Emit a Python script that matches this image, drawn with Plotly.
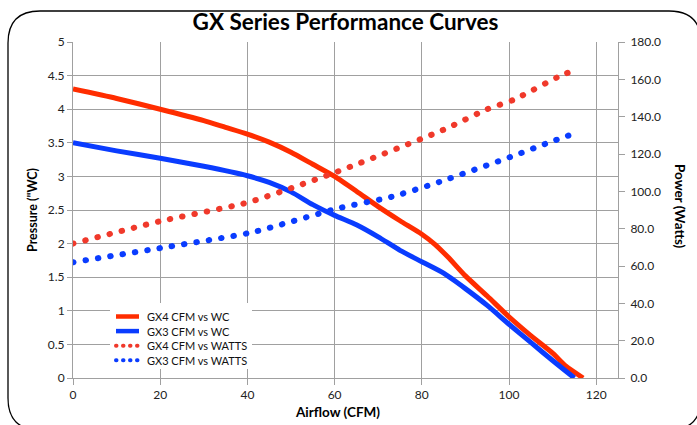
import plotly.graph_objects as go

# ---------------- data ----------------
gx4_wc_cfm = [0, 10, 20, 30, 35, 40, 45, 50, 55, 60, 65, 70, 75, 80, 83, 86, 90, 95, 100, 105, 110, 113, 117]
gx4_wc = [4.30, 4.16, 4.00, 3.83, 3.73, 3.63, 3.51, 3.36, 3.18, 3.00, 2.78, 2.55, 2.34, 2.14, 1.99, 1.80, 1.52, 1.22, 0.91, 0.63, 0.37, 0.18, 0.0]

gx3_wc_cfm = [0, 10, 20, 30, 40, 45, 50, 55, 60, 65, 70, 75, 80, 85, 90, 95, 100, 105, 110, 115]
gx3_wc = [3.50, 3.38, 3.27, 3.15, 3.01, 2.91, 2.77, 2.58, 2.42, 2.28, 2.10, 1.90, 1.73, 1.56, 1.33, 1.08, 0.80, 0.53, 0.26, 0.0]

gx4_w_cfm = [0, 20, 40, 60, 85, 95, 101, 111, 114]
gx4_watts = [72, 84, 94, 110, 133, 144, 149, 161, 164]

gx3_w_cfm = [0, 21, 41, 61, 73, 84, 101, 109, 115]
gx3_watts = [62, 70, 78, 91, 97, 105, 119, 126, 131]

series_names = ["GX4 CFM vs WC", "GX3 CFM vs WC", "GX4 CFM vs WATTS", "GX3 CFM vs WATTS"]

x_ticks = [0, 20, 40, 60, 80, 100, 120]
y_ticks = [0, 0.5, 1, 1.5, 2, 2.5, 3, 3.5, 4, 4.5, 5]
y2_ticks = [0, 20, 40, 60, 80, 100, 120, 140, 160, 180]

# ---------------- style ----------------
W, H = 697, 425
ML, MR, MT, MB = 73, 79, 42, 47
PW, PH = W - ML - MR, H - MT - MB
FONT = "Lato"
RED = "#FF2D00"
BLUE = "#0A3CFF"
RED_DOT = "#F0392B"
BLUE_DOT = "#0A3CFF"
GRID = "#A0A0A0"
DOT_DASH = "0.5px,12px"


def px(x):
    return (x - ML) / PW


def py(y):
    return (H - MB - y) / PH


fig = go.Figure()
fig.add_trace(go.Scatter(x=gx4_wc_cfm, y=gx4_wc, name=series_names[0], mode="lines",
                         line=dict(color=RED, width=5, shape="spline", smoothing=0.6)))
fig.add_trace(go.Scatter(x=gx3_wc_cfm, y=gx3_wc, name=series_names[1], mode="lines",
                         line=dict(color=BLUE, width=5, shape="spline", smoothing=0.6)))
fig.add_trace(go.Scatter(x=gx4_w_cfm, y=gx4_watts, name=series_names[2], mode="lines", yaxis="y2",
                         line=dict(color=RED_DOT, width=6, shape="spline", smoothing=0.6, dash=DOT_DASH)))
fig.add_trace(go.Scatter(x=gx3_w_cfm, y=gx3_watts, name=series_names[3], mode="lines", yaxis="y2",
                         line=dict(color=BLUE_DOT, width=6, shape="spline", smoothing=0.6, dash=DOT_DASH)))

tickfont = dict(family=FONT, size=12, color="#222")
fig.update_layout(
    width=W, height=H,
    margin=dict(l=ML, r=MR, t=MT, b=MB, pad=0),
    paper_bgcolor="white", plot_bgcolor="white",
    font=dict(family=FONT, color="#000"),
    title=dict(text="<b>GX Series Performance Curves</b>", x=(ML + PW / 2) / W, xref="container",
               xanchor="center", y=1 - 22 / H, yref="container", yanchor="middle",
               font=dict(family=FONT, size=22.5, color="#000")),
    xaxis=dict(range=[0, 125], tickvals=x_ticks, showgrid=True, gridcolor=GRID, gridwidth=1,
               showline=True, linecolor=GRID, linewidth=1, ticks="outside", ticklen=6, tickcolor=GRID,
               tickfont=tickfont, zeroline=False),
    yaxis=dict(range=[0, 5], tickvals=y_ticks, showgrid=True, gridcolor=GRID, gridwidth=1,
               showline=True, linecolor=GRID, linewidth=1, ticks="outside", ticklen=5, tickcolor=GRID,
               tickfont=tickfont, zeroline=False),
    yaxis2=dict(range=[0, 180], tickvals=y2_ticks, tickformat=".1f", overlaying="y", side="right",
                showgrid=False, showline=True, linecolor=GRID, linewidth=1, ticks="outside", ticklen=6,
                tickcolor=GRID, tickfont=tickfont, zeroline=False, ticklabelstandoff=3),
    showlegend=False,
)

fig.add_annotation(text="<b>Pressure (\"WC)</b>", x=px(32), y=py(210), xref="paper", yref="paper",
                   textangle=-90, showarrow=False, font=dict(family=FONT, size=12.5, color="#000"),
                   xanchor="center", yanchor="middle")
fig.add_annotation(text="<b>Power (Watts)</b>", x=px(680), y=py(207), xref="paper", yref="paper",
                   textangle=90, showarrow=False, font=dict(family=FONT, size=13.5, color="#000"),
                   xanchor="center", yanchor="middle")
fig.add_annotation(text="<b>Airflow (CFM)</b>", x=px(337), y=py(412), xref="paper", yref="paper",
                   showarrow=False, font=dict(family=FONT, size=13.5, color="#000"),
                   xanchor="center", yanchor="middle")

# legend (drawn by hand to match the compact row spacing)
fig.add_shape(type="rect", x0=px(110), x1=px(252), y0=py(303), y1=py(369), xref="paper", yref="paper",
              fillcolor="white", line=dict(width=0), layer="above")
legend_styles = [
    dict(color=RED, width=4.5),
    dict(color=BLUE, width=4.5),
    dict(color=RED_DOT, width=4, dash="0.5px,6.5px"),
    dict(color=BLUE_DOT, width=4, dash="0.5px,6.5px"),
]
for i, (name, st) in enumerate(zip(series_names, legend_styles)):
    yy = 316.5 + i * 14.6
    fig.add_shape(type="line", x0=px(116), x1=px(139), y0=py(yy), y1=py(yy), xref="paper", yref="paper",
                  line=st, layer="above")
    fig.add_annotation(text=name, x=px(145), y=py(yy), xref="paper", yref="paper", showarrow=False,
                       xanchor="left", yanchor="middle", font=dict(family=FONT, size=11, color="#111"))

# rounded chart border
x0, y0, x1, y1, r = 8, 11, 701, 430, 32
path = (f"M {px(x0 + r)},{py(y0)} L {px(x1 - r)},{py(y0)} "
        f"Q {px(x1)},{py(y0)} {px(x1)},{py(y0 + r)} L {px(x1)},{py(y1 - r)} "
        f"Q {px(x1)},{py(y1)} {px(x1 - r)},{py(y1)} L {px(x0 + r)},{py(y1)} "
        f"Q {px(x0)},{py(y1)} {px(x0)},{py(y1 - r)} L {px(x0)},{py(y0 + r)} "
        f"Q {px(x0)},{py(y0)} {px(x0 + r)},{py(y0)} Z")
fig.add_shape(type="path", path=path, xref="paper", yref="paper",
              line=dict(color="#000", width=1.3), layer="below")

js = """
document.body.style.margin = '0';
var gd = document.getElementById('{plot_id}');
function roundDots() {
  document.querySelectorAll('path').forEach(function (p) {
    var d = p.style.strokeDasharray;
    if (d && d !== 'none') { p.style.strokeLinecap = 'round'; }
  });
}
roundDots();
if (gd && gd.on) { gd.on('plotly_afterplot', roundDots); }
"""
fig.write_html("out.html", post_script=js, config={"displayModeBar": False})
